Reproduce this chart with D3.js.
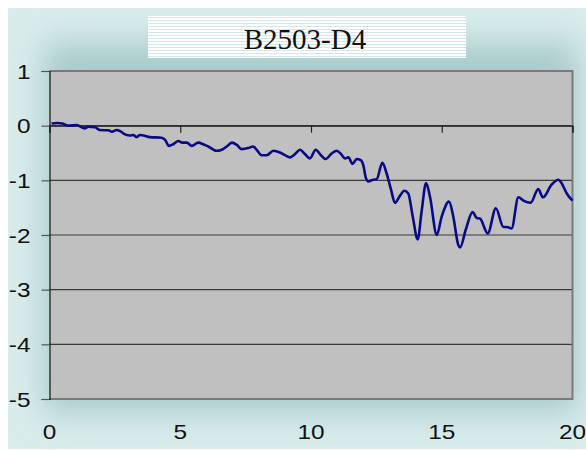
<!DOCTYPE html>
<html>
<head>
<meta charset="utf-8">
<script src="https://cdn.jsdelivr.net/npm/d3@7"></script>
<style>
  body { margin: 0; background: #fff; }
  svg { display: block; }
</style>
</head>
<body>
<div id="chart"></div>
<script>
// chart data
const title = "B2503-D4";
const xTicks = [0, 5, 10, 15, 20];
const yTicks = [1, 0, -1, -2, -3, -4, -5];
const xs = [0.08, 0.3, 0.5, 0.72, 1.04, 1.36, 1.48, 1.74, 1.93, 2.25, 2.38, 2.57, 2.7, 2.89, 3.08, 3.2, 3.33, 3.46,
  3.59, 3.84, 4.29, 4.42, 4.57, 4.73, 4.93, 5.08, 5.25, 5.44, 5.69, 5.92, 6.07, 6.39, 6.59, 6.78, 6.97, 7.16,
  7.35, 7.6, 7.79, 7.92, 8.11, 8.31, 8.56, 8.81, 9.0, 9.2, 9.39, 9.58, 9.77, 9.96, 10.18, 10.38, 10.56, 10.79,
  10.98, 11.15, 11.3, 11.43, 11.59, 11.75, 11.9, 12.0, 12.1, 12.19, 12.38, 12.51, 12.73, 12.89, 13.05, 13.21,
  13.38, 13.57, 13.72, 13.89, 14.08, 14.23, 14.4, 14.55, 14.81, 15.0, 15.28, 15.44, 15.63, 15.7, 15.92,
  16.18, 16.34, 16.46, 16.76, 17.07, 17.35, 17.54, 17.67, 17.93, 18.12, 18.4, 18.69, 18.87, 19.2, 19.46,
  19.58, 19.78, 20.0];
const ys = [0.04, 0.05, 0.04, 0.0, 0.01, -0.05, -0.02, -0.03, -0.08, -0.085, -0.11, -0.08, -0.1, -0.16, -0.18, -0.17, -0.21, -0.17,
  -0.18, -0.21, -0.22, -0.26, -0.37, -0.34, -0.28, -0.31, -0.31, -0.37, -0.31, -0.35, -0.38, -0.46, -0.44, -0.38, -0.31, -0.35,
  -0.43, -0.41, -0.38, -0.44, -0.54, -0.54, -0.46, -0.49, -0.54, -0.58, -0.52, -0.44, -0.52, -0.6, -0.44, -0.54, -0.61, -0.51,
  -0.46, -0.52, -0.6, -0.58, -0.7, -0.61, -0.63, -0.72, -0.96, -1.02, -0.99, -0.98, -0.68, -0.87, -1.15, -1.41,
  -1.3, -1.19, -1.24, -1.66, -2.08, -1.57, -1.05, -1.3, -2.0, -1.66, -1.39, -1.66, -2.18, -2.23, -1.9,
  -1.58, -1.69, -1.7, -1.97, -1.51, -1.85, -1.86, -1.88, -1.31, -1.37, -1.41, -1.16, -1.31, -1.08, -0.99,
  -1.05, -1.24, -1.37];

const W = 586, H = 450;
const plot = { left: 49.5, right: 572.5, top: 71, bottom: 399 };
const labelFont = "'Liberation Sans', Arial, sans-serif";

const svg = d3.select("#chart").append("svg")
    .attr("width", W)
    .attr("height", H);

const defs = svg.append("defs");
defs.append("filter").attr("id", "glow")
    .attr("x", "-20%").attr("y", "-20%").attr("width", "140%").attr("height", "140%")
    .append("feGaussianBlur").attr("stdDeviation", 16);

const stripes = defs.append("pattern")
    .attr("id", "stripes")
    .attr("patternUnits", "userSpaceOnUse")
    .attr("width", 10).attr("height", 3);
stripes.append("rect").attr("width", 10).attr("height", 3).attr("fill", "#ffffff");
stripes.append("rect").attr("y", 2).attr("width", 10).attr("height", 1).attr("fill", "#d3e6ea");

// background with a darker teal glow round the plot
svg.append("rect")
    .attr("x", 8).attr("y", 8)
    .attr("width", W - 8).attr("height", H - 9)
    .attr("fill", "#d9ecec");
const glow = svg.append("g").attr("filter", "url(#glow)");
glow.append("rect")
    .attr("x", plot.left - 6).attr("y", 42)
    .attr("width", plot.right - plot.left + 12).attr("height", plot.bottom - 28)
    .attr("fill", "#a9cbcb");

// title box
svg.append("rect")
    .attr("x", 148).attr("y", 16)
    .attr("width", 318).attr("height", 42)
    .attr("fill", "url(#stripes)");
svg.append("text")
    .attr("x", 305).attr("y", 49)
    .attr("text-anchor", "middle")
    .style("font-family", "'Liberation Serif', 'Times New Roman', serif")
    .style("font-size", "29px")
    .attr("fill", "#111")
    .text(title);

// scales
const x = d3.scaleLinear().domain([0, 20]).range([plot.left, plot.right]);
const y = d3.scaleLinear().domain([-5, 1]).range([plot.bottom, plot.top]);

// plot area
svg.append("rect")
    .attr("x", plot.left).attr("y", plot.top)
    .attr("width", plot.right - plot.left).attr("height", plot.bottom - plot.top)
    .attr("fill", "#c0c0c0");

// gridlines
svg.append("g")
    .selectAll("line")
    .data(yTicks.filter(d => d !== 1 && d !== -5))
    .join("line")
    .attr("x1", plot.left).attr("x2", plot.right)
    .attr("y1", d => y(d)).attr("y2", d => y(d))
    .attr("stroke", "#3a3a3a")
    .attr("stroke-width", 1.2);

// plot border (gray)
svg.append("path")
    .attr("d", `M${plot.left},${plot.top}H${plot.right}V${plot.bottom}H${plot.left}`)
    .attr("fill", "none")
    .attr("stroke", "#7a7a7a")
    .attr("stroke-width", 2);

// y axis
const yAxis = svg.append("g")
    .attr("transform", `translate(${plot.left},0)`)
    .call(d3.axisLeft(y).tickValues(yTicks).tickSize(8).tickFormat(d => String(d)));
yAxis.select(".domain").attr("stroke", "#111").attr("stroke-width", 1.2);
yAxis.selectAll(".tick line").attr("stroke", "#555").attr("stroke-width", 1.2);
yAxis.selectAll("text")
    .attr("dy", "0.36em")
    .style("font-family", labelFont)
    .style("font-size", "20px")
    .attr("fill", "#111")
    .attr("transform", "scale(1.22,1)")
    .attr("x", -19 / 1.22);

// x axis: crosses at 0, labels at the bottom
const xAxis = svg.append("g")
    .attr("transform", `translate(0,${y(0)})`)
    .call(d3.axisBottom(x).tickValues(xTicks).tickSize(7).tickFormat(""));
xAxis.select(".domain").attr("stroke", "#222").attr("stroke-width", 1.2);
xAxis.selectAll(".tick line").attr("stroke", "#222").attr("stroke-width", 1.2);

svg.append("g")
    .selectAll("text")
    .data(xTicks)
    .join("text")
    .attr("transform", d => `translate(${x(d)},439) scale(1.22,1)`)
    .attr("text-anchor", "middle")
    .style("font-family", labelFont)
    .style("font-size", "20px")
    .attr("fill", "#111")
    .text(d => String(d));

// the series
const data = xs.map((d, i) => ({ x: d, y: ys[i] }));
const line = d3.line()
    .x(d => x(d.x))
    .y(d => y(d.y))
    .curve(d3.curveMonotoneX);
svg.append("path")
    .datum(data)
    .attr("fill", "none")
    .attr("stroke", "#0a0a84")
    .attr("stroke-width", 2.6)
    .attr("stroke-linejoin", "round")
    .attr("d", line);
</script>
</body>
</html>
